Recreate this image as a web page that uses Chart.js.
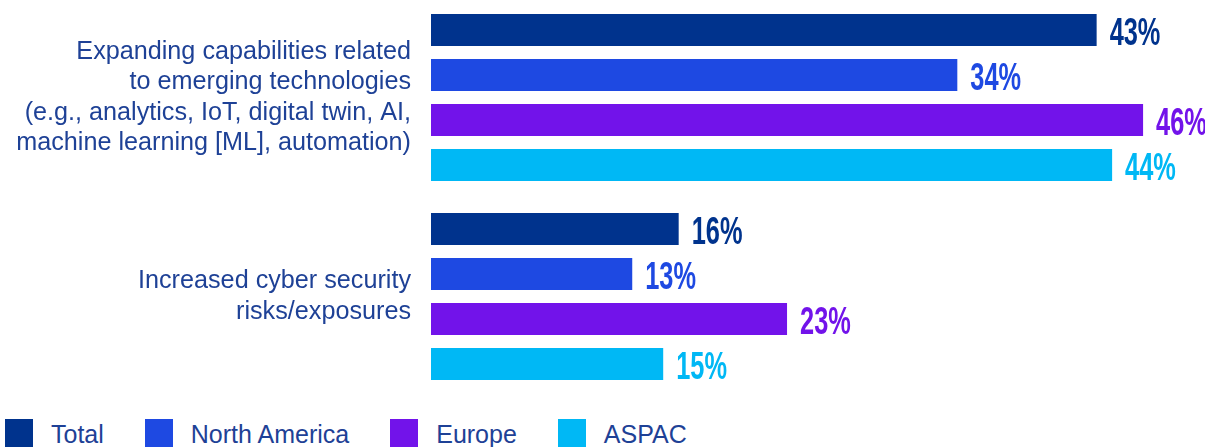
<!DOCTYPE html>
<html>
<head>
<meta charset="utf-8">
<script src="https://cdn.jsdelivr.net/npm/chart.js@4/dist/chart.umd.min.js"></script>
<style>
    html, body { margin: 0; padding: 0; background: #fff; }
    body { width: 1205px; height: 447px; position: relative; overflow: hidden; }
    .chartBox { position: absolute; left: 0; top: -2px; width: 1205px; height: 398px; }
    .legend { position: absolute; left: 5px; top: 419px; display: flex; align-items: flex-start;
              font-family: "Liberation Sans", Arial, sans-serif; font-size: 25px; line-height: 30px; color: #1e4196; }
    .legend .item { display: flex; align-items: flex-start; margin-right: 41px; }
    .legend .swatch { width: 28px; height: 28px; margin-right: 18px; }
</style>
</head>
<body>
<div class="chartBox"><canvas id="chart"></canvas></div>
<div class="legend" id="legend"></div>
<script>
    // Categories and regional shares (%)
    const categories = [
        ['Expanding capabilities related', 'to emerging technologies', '(e.g., analytics, IoT, digital twin, AI,', 'machine learning [ML], automation)'],
        ['Increased cyber security', 'risks/exposures']
    ];
    const seriesNames = ['Total', 'North America', 'Europe', 'ASPAC'];
    const totalValues = [43, 16];
    const northAmericaValues = [34, 13];
    const europeValues = [46, 23];
    const aspacValues = [44, 15];
    const seriesColors = ['#00338d', '#1e49e2', '#7213ea', '#00b8f5'];

    const seriesValues = [totalValues, northAmericaValues, europeValues, aspacValues];

    // Percent labels at the end of each bar (squeezed to a condensed look)
    const barLabels = {
        id: 'barLabels',
        afterDatasetsDraw(chart) {
            const ctx = chart.ctx;
            chart.data.datasets.forEach((ds, i) => {
                const meta = chart.getDatasetMeta(i);
                meta.data.forEach((bar, j) => {
                    ctx.save();
                    ctx.font = 'bold 39px "Liberation Sans", Arial, sans-serif';
                    ctx.textBaseline = 'alphabetic';
                    ctx.textAlign = 'left';
                    ctx.fillStyle = ds.backgroundColor;
                    ctx.translate(bar.x + 13, bar.y + 15);
                    ctx.scale(0.65, 1);
                    ctx.fillText(ds.data[j] + '%', 0, 0);
                    ctx.restore();
                });
            });
        }
    };

    const chart = new Chart(document.getElementById('chart'), {
        type: 'bar',
        data: {
            labels: categories,
            datasets: seriesNames.map((name, i) => ({
                label: name,
                data: seriesValues[i],
                backgroundColor: seriesColors[i],
                barPercentage: 0.711,
                categoryPercentage: 0.905
            }))
        },
        options: {
            indexAxis: 'y',
            responsive: true,
            maintainAspectRatio: false,
            animation: false,
            layout: { padding: 0 },
            plugins: {
                legend: { display: false },
                tooltip: { enabled: false }
            },
            scales: {
                x: {
                    min: 0,
                    max: 50,
                    display: false
                },
                y: {
                    grid: { display: false, drawTicks: false },
                    border: { display: false },
                    ticks: {
                        padding: 20,
                        color: '#1e4196',
                        font: { family: '"Liberation Sans", Arial, sans-serif', size: 25.2, lineHeight: 1.2 }
                    },
                    afterFit(scale) {
                        scale.width = 431;
                        scale.paddingTop = 0;
                        scale.paddingBottom = 0;
                    }
                }
            }
        },
        plugins: [barLabels]
    });

    // Legend built from the datasets
    const legendEl = document.getElementById('legend');
    chart.data.datasets.forEach(ds => {
        const item = document.createElement('div');
        item.className = 'item';
        item.innerHTML = '<span class="swatch" style="background:' + ds.backgroundColor + '"></span>' + ds.label;
        legendEl.appendChild(item);
    });
</script>
</body>
</html>
